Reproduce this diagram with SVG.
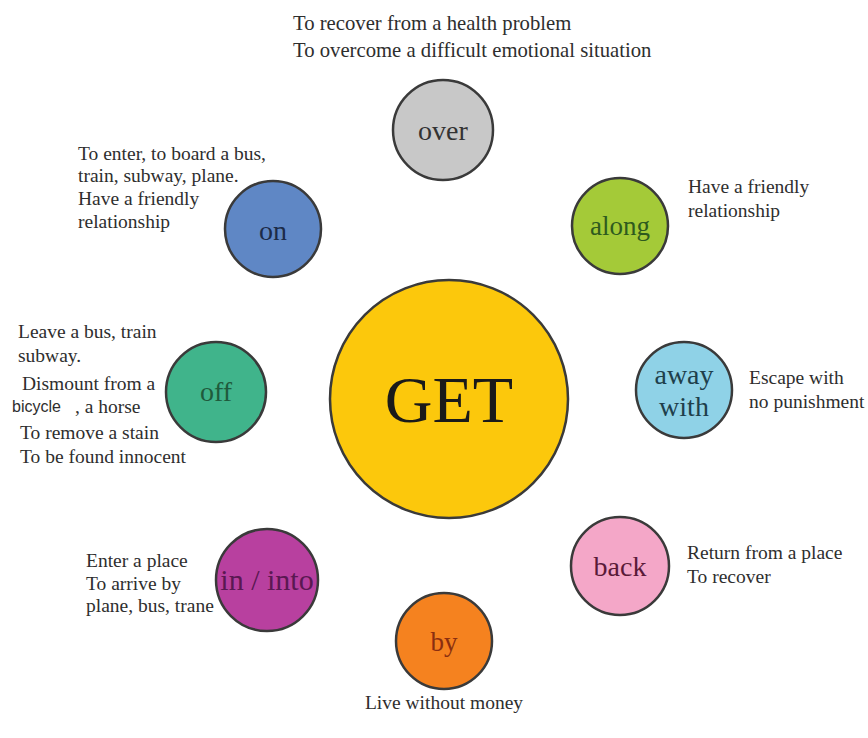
<svg xmlns="http://www.w3.org/2000/svg" width="868" height="738" viewBox="0 0 868 738">
<style>
.bg{fill:#ffffff}
.n{stroke:#3a3a3a;stroke-width:2.5}
.t{font-family:"Liberation Serif","Times New Roman",serif;font-size:19.5px;fill:#2e2e2e}
.tt{font-size:20.7px}
.lbl{font-family:"Liberation Serif","Times New Roman",serif;text-anchor:middle}
</style>
<rect class="bg" x="0" y="0" width="868" height="738"/>
<g id="connectors"></g>

<g id="get">
<circle class="n" cx="449" cy="399" r="119" fill="#fcc80c" stroke="#6a5a20"/>
<text class="lbl" x="449" y="422" font-size="66" fill="#1a1a1a">GET</text>
</g>

<g id="over">
<circle class="n" cx="443" cy="130" r="50" fill="#c8c8c8"/>
<text class="lbl" x="443" y="140" font-size="28" fill="#333333">over</text>
<text class="t tt" x="293" y="30">To recover from a health problem</text>
<text class="t tt" x="293" y="57">To overcome a difficult emotional situation</text>
</g>

<g id="on">
<circle class="n" cx="273" cy="229" r="48" fill="#5f87c5" stroke="#2a3550"/>
<text class="lbl" x="273" y="240" font-size="28" fill="#1c2b48">on</text>
<text class="t" x="78" y="160">To enter, to board a bus,</text>
<text class="t" x="78" y="182">train, subway, plane.</text>
<text class="t" x="78" y="205">Have a friendly</text>
<text class="t" x="78" y="228">relationship</text>
</g>

<g id="along">
<circle class="n" cx="620" cy="226" r="48" fill="#a4ca38" stroke="#33401a"/>
<text class="lbl" x="620" y="235" font-size="27" fill="#2e5a1e">along</text>
<text class="t" x="688" y="193">Have a friendly</text>
<text class="t" x="688" y="217">relationship</text>
</g>

<g id="off">
<circle class="n" cx="216" cy="392" r="50" fill="#40b48b" stroke="#234a3a"/>
<text class="lbl" x="216" y="401" font-size="28" fill="#1f5a3c">off</text>
<text class="t" x="18" y="338">Leave a bus, train</text>
<text class="t" x="18" y="362">subway.</text>
<text class="t" x="22" y="390">Dismount from a</text>
<text x="12" y="412" font-family="'Liberation Sans',Arial,sans-serif" font-size="16" fill="#2e2e2e">bicycle</text>
<text class="t" x="75" y="413">, a horse</text>
<text class="t" x="20" y="439">To remove a stain</text>
<text class="t" x="20" y="463">To be found innocent</text>
</g>

<g id="away_with">
<circle class="n" cx="684" cy="390" r="48" fill="#8fd2e7" stroke="#2a4a55"/>
<text class="lbl" x="684" y="384" font-size="28" fill="#1e3f4c">away</text>
<text class="lbl" x="684" y="416" font-size="28" fill="#1e3f4c">with</text>
<text class="t" x="749" y="384">Escape with</text>
<text class="t" x="749" y="408">no punishment</text>
</g>

<g id="in_into">
<circle class="n" cx="267" cy="580" r="51" fill="#b8409f" stroke="#3a1a3a"/>
<text class="lbl" x="267" y="590" font-size="30" fill="#5a1852">in / into</text>
<text class="t" x="86" y="567">Enter a place</text>
<text class="t" x="86" y="590">To arrive by</text>
<text class="t" x="86" y="612">plane, bus, trane</text>
</g>

<g id="back">
<circle class="n" cx="620" cy="566" r="49" fill="#f4a7c8" stroke="#4a2a38"/>
<text class="lbl" x="620" y="576" font-size="28" fill="#5a1a38">back</text>
<text class="t" x="687" y="559">Return from a place</text>
<text class="t" x="687" y="583">To recover</text>
</g>

<g id="by">
<circle class="n" cx="444" cy="641" r="48" fill="#f5821f" stroke="#4a2a10"/>
<text class="lbl" x="444" y="651" font-size="27" fill="#8a2e10">by</text>
<text class="t" x="444" y="709" text-anchor="middle">Live without money</text>
</g>
</svg>
